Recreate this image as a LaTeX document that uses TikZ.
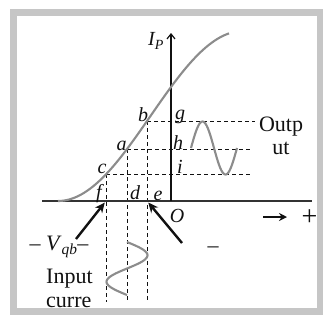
\documentclass[tikz,border=0pt]{standalone}
\usepackage{fontspec}
\setmainfont{Liberation Serif}
\usetikzlibrary{arrows.meta}
\definecolor{Frame}{HTML}{C6C6C6}
\definecolor{Curve}{HTML}{8C8C8C}
\definecolor{Ink}{HTML}{111111}
\definecolor{AxisInk}{HTML}{333333}

\begin{document}
\begin{tikzpicture}[x=1pt,y=-1pt,every node/.style={font=\fontsize{22}{23}\selectfont,text=Ink,inner sep=0pt},lbl/.style={font=\fontsize{20}{22}\selectfont\itshape},guide/.style={draw=Ink,line width=0.9pt,dash pattern=on 4pt off 3pt},wave/.style={draw=Curve,line width=2.1pt},pointer/.style={draw=Ink,line width=2.4pt,-{Stealth[length=10pt,width=9pt]},shorten >=2pt}]
\useasboundingbox (0,0) rectangle (323,322);
\fill[Frame] (10,9) rectangle (323,315);\fill[white] (17,16) rectangle (317,308);

% points on the curve and their projections
\coordinate (c) at (106,174.3);\coordinate (a) at (127,149);\coordinate (b) at (147,121);
\coordinate (f) at (106,201);\coordinate (d) at (127,201);\coordinate (e) at (147,201);
\coordinate (g) at (171,121);\coordinate (h) at (171,149);\coordinate (i) at (171,174.3);
\coordinate (gend) at (255,121);\coordinate (hend) at (252,149);\coordinate (iend) at (250,174.3);
\coordinate (fend) at (106,302);\coordinate (dend) at (127,302);\coordinate (eend) at (147,302);
\draw[guide] (b)--(gend);\draw[guide] (a)--(hend);\draw[guide] (c)--(iend);
\draw[guide] (c)--(fend);\draw[guide] (a)--(dend);\draw[guide] (b)--(eend);

% axes
\coordinate (O) at (171,201);\coordinate (top) at (171,33);
\coordinate (xl) at (42,201);\coordinate (xr) at (312,201);
\draw[draw=AxisInk,line width=1.3pt] (xl)--(xr);
\draw[draw=Ink,line width=2.6pt,-{Straight Barb[length=5pt,width=8pt,line width=1.2pt]}] (O)--(top);

% characteristic and signals
\draw[wave] plot[domain=58:229,samples=80] (\x,{201-85*(1-cos((\x-58)/185*180))});
\draw[wave] plot[domain=0:360,samples=50] ({191+\x/360*46},{148-26.5*sin(\x)});
\draw[wave] plot[domain=0:360,samples=50] ({127+20.5*sin(\x)},{242+\x/360*53});

% labels
\node[lbl] (Ip) at (156,41) {I\textsubscript{P}};
\node[lbl] (lb) at (143,115) {b};\node[lbl] (la) at (121.5,146) {a};\node[lbl] (lc) at (102,169) {c};
\node[lbl] (lf) at (99,194) {f};\node[lbl] (ld) at (135,193) {d};\node[lbl] (le) at (158,195.5) {e};
\node[lbl] (lg) at (180,117) {g};\node[lbl] (lh) at (178,143) {h};\node[lbl] (li) at (180,167) {i};
\node[lbl] (lO) at (177,216) {O};
\node[align=center] (out) at (281,136) {Outp\\ut};
\node[align=left,anchor=west,font=\fontsize{22}{24}\selectfont] (inp) at (46,288) {Input\\curre};
\node (vqb) at (59,247) {\textendash\ \textit{V}\textsubscript{\textit{qb}}\textendash};
\node (minus) at (213,250) {\textendash};
\node[font=\fontsize{28}{30}\selectfont] (plus) at (309.5,217.5) {+};
\coordinate (ra) at (263,217);\coordinate (rb) at (287,217);
\draw[draw=Ink,line width=1.6pt,-{Stealth[length=8pt,width=8pt]}] (ra)--(rb);

% pointers to the grid feet
\coordinate (pl) at (76,239);\coordinate (pr) at (182,243);
\draw[pointer] (pl)--(f);\draw[pointer] (pr)--(e);
\end{tikzpicture}
\end{document}
